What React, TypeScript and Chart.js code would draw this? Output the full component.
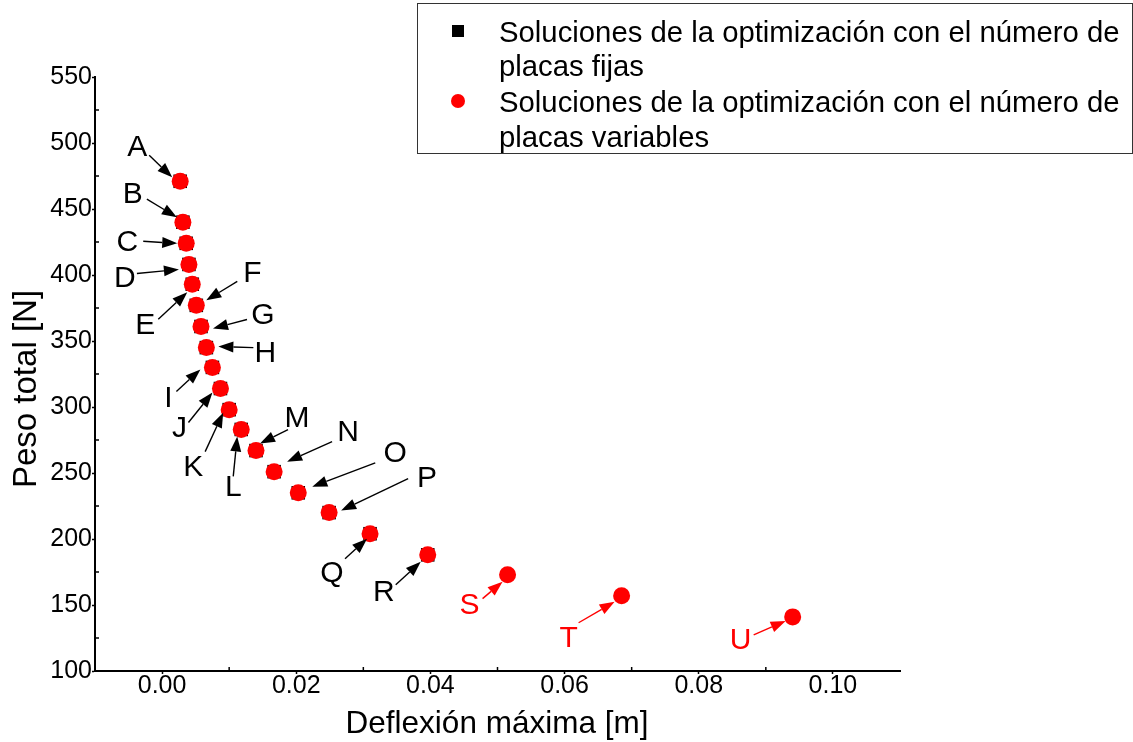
import React, { useEffect, useRef } from "react";
import { Chart, registerables } from "chart.js";

Chart.register(...registerables);

// ---- data ----
const pointLabels = ["A", "B", "C", "D", "E", "F", "G", "H", "I", "J", "K", "L", "M", "N", "O", "P", "Q", "R", "S", "T", "U"];
const deflexionVariables = [0.0027, 0.0031, 0.0036, 0.004, 0.0045, 0.0051, 0.0058, 0.0066, 0.0075, 0.0087, 0.01, 0.0118, 0.014, 0.0167, 0.0203, 0.0249, 0.031, 0.0396, 0.0515, 0.0685, 0.094];
const pesoVariables = [471, 440, 424, 408, 393, 377, 361, 345, 330, 314, 298, 283, 267, 251, 235, 220, 204, 188, 173, 157, 141];
const deflexionFijas = [0.0027, 0.0031, 0.0036, 0.004, 0.0045, 0.0051, 0.0058, 0.0066, 0.0075, 0.0087, 0.01, 0.0118, 0.014, 0.0167, 0.0203, 0.0249, 0.031, 0.0396];
const pesoFijas = [471, 440, 424, 408, 393, 377, 361, 345, 330, 314, 298, 283, 267, 251, 235, 220, 204, 188];
const xTicks = [0.0, 0.02, 0.04, 0.06, 0.08, 0.1];
const xMinorTicks = [0.01, 0.03, 0.05, 0.07, 0.09];
const yTicks = [100, 150, 200, 250, 300, 350, 400, 450, 500, 550];
const yMinorTicks = [125, 175, 225, 275, 325, 375, 425, 475, 525];
const legendFijas = ["Soluciones de la optimización con el número de", "placas fijas"];
const legendVariables = ["Soluciones de la optimización con el número de", "placas variables"];
const xTitle = "Deflexión máxima [m]";
const yTitle = "Peso total [N]";

// ---- annotation layout (pixel offsets from each point: text, arrow tail, arrow head) ----
const labelLayout: { t: number[]; a: number[]; h: number[] }[] = [
  { t: [-43, -35], a: [-31, -26], h: [-8, -4] },
  { t: [-50, -28], a: [-36, -23], h: [-6, -5] },
  { t: [-59, -2], a: [-43, -2], h: [-9, 0] },
  { t: [-64, 13], a: [-52, 9], h: [-10, 5] },
  { t: [-47, 40], a: [-34, 35], h: [-5, 8] },
  { t: [56, -33], a: [41, -24], h: [10, -5] },
  { t: [62, -12], a: [46, -7], h: [12, 2] },
  { t: [59, 5], a: [47, 0], h: [12, -1] },
  { t: [-44, 30], a: [-36, 24], h: [-12, 2] },
  { t: [-41, 39], a: [-32, 34], h: [-8, 4] },
  { t: [-36, 57], a: [-24, 42], h: [-6, 3] },
  { t: [-8, 57], a: [-8, 47], h: [-4, 7] },
  { t: [41, -33], a: [32, -21], h: [4, -7] },
  { t: [74, -40], a: [58, -30], h: [13, -10] },
  { t: [97, -40], a: [77, -30], h: [14, -6] },
  { t: [98, -35], a: [79, -34], h: [12, -2] },
  { t: [-38, 39], a: [-25, 25], h: [-3, 5] },
  { t: [-44, 37], a: [-32, 30], h: [-7, 7] },
  { t: [-38, 30], a: [-25, 24], h: [-5, 7] },
  { t: [-53, 42], a: [-43, 27], h: [-7, 6] },
  { t: [-52, 23], a: [-39, 18], h: [-7, 4] },
];

const FONT = "'Liberation Sans', Arial, sans-serif";
const RED = "#ff0000";

function drawArrow(ctx: CanvasRenderingContext2D, x1: number, y1: number, x2: number, y2: number, color: string) {
  const ang = Math.atan2(y2 - y1, x2 - x1);
  const len = 15;
  const hw = 5.5;
  const bx = x2 - len * Math.cos(ang);
  const by = y2 - len * Math.sin(ang);
  ctx.strokeStyle = color;
  ctx.fillStyle = color;
  ctx.lineWidth = 1.4;
  ctx.beginPath();
  ctx.moveTo(x1, y1);
  ctx.lineTo(bx, by);
  ctx.stroke();
  ctx.beginPath();
  ctx.moveTo(x2, y2);
  ctx.lineTo(bx - hw * Math.sin(ang), by + hw * Math.cos(ang));
  ctx.lineTo(bx + hw * Math.sin(ang), by - hw * Math.cos(ang));
  ctx.closePath();
  ctx.fill();
}

const annotationPlugin = {
  id: "annotations",
  afterDatasetsDraw(chart: any) {
    const ctx: CanvasRenderingContext2D = chart.ctx;
    const meta = chart.getDatasetMeta(0);
    ctx.save();
    meta.data.forEach((el: any, i: number) => {
      const lay = labelLayout[i];
      if (!lay) return;
      const color = i >= deflexionFijas.length ? RED : "#000";
      drawArrow(ctx, el.x + lay.a[0], el.y + lay.a[1], el.x + lay.h[0], el.y + lay.h[1], color);
      ctx.fillStyle = color;
      ctx.font = `30px ${FONT}`;
      ctx.textAlign = "center";
      ctx.textBaseline = "middle";
      ctx.fillText(pointLabels[i], el.x + lay.t[0], el.y + lay.t[1] + 1);
    });
    ctx.restore();
  },
  afterDraw(chart: any) {
    const ctx: CanvasRenderingContext2D = chart.ctx;
    const xs = chart.scales.x;
    const ys = chart.scales.y;
    const area = chart.chartArea;
    ctx.save();
    // minor ticks (inward)
    ctx.strokeStyle = "#000";
    ctx.lineWidth = 1.5;
    xMinorTicks.forEach((v) => {
      const px = xs.getPixelForValue(v);
      ctx.beginPath();
      ctx.moveTo(px, area.bottom);
      ctx.lineTo(px, area.bottom - 4);
      ctx.stroke();
    });
    yMinorTicks.forEach((v) => {
      const py = ys.getPixelForValue(v);
      ctx.beginPath();
      ctx.moveTo(area.left, py);
      ctx.lineTo(area.left + 4, py);
      ctx.stroke();
    });
    // axis titles
    ctx.fillStyle = "#000";
    ctx.font = `31.5px ${FONT}`;
    ctx.textAlign = "center";
    ctx.textBaseline = "alphabetic";
    ctx.fillText(xTitle, 497, 733);
    ctx.save();
    ctx.translate(36, 389);
    ctx.rotate(-Math.PI / 2);
    ctx.font = `33px ${FONT}`;
    ctx.fillText(yTitle, 0, 0);
    ctx.restore();
    // legend
    ctx.strokeStyle = "#333";
    ctx.lineWidth = 1;
    ctx.strokeRect(417.5, 3.5, 715, 150);
    ctx.fillStyle = "#000";
    ctx.fillRect(452, 25, 12, 12);
    ctx.fillStyle = RED;
    ctx.beginPath();
    ctx.arc(458, 101, 7, 0, Math.PI * 2);
    ctx.fill();
    ctx.fillStyle = "#000";
    ctx.font = `29.3px ${FONT}`;
    ctx.textAlign = "left";
    ctx.fillText(legendFijas[0], 499, 41.5);
    ctx.fillText(legendFijas[1], 499, 76);
    ctx.fillText(legendVariables[0], 499, 112);
    ctx.fillText(legendVariables[1], 499, 147);
    ctx.restore();
  },
};

export default function App() {
  const canvasRef = useRef<HTMLCanvasElement | null>(null);

  useEffect(() => {
    const canvas = canvasRef.current;
    if (!canvas) return;
    const chart = new Chart(canvas, {
      type: "scatter",
      data: {
        datasets: [
          {
            label: legendVariables.join(" "),
            data: deflexionVariables.map((x, i) => ({ x, y: pesoVariables[i] })),
            pointStyle: "circle",
            pointRadius: 8.5,
            pointHoverRadius: 8.5,
            backgroundColor: RED,
            borderColor: RED,
            borderWidth: 0,
            order: 0,
          },
          {
            label: legendFijas.join(" "),
            data: deflexionFijas.map((x, i) => ({ x, y: pesoFijas[i] })),
            pointStyle: "rect",
            pointRadius: 9.6,
            pointHoverRadius: 9.6,
            backgroundColor: "#000",
            borderColor: "#000",
            borderWidth: 0,
            order: 1,
          },
        ],
      },
      options: {
        responsive: false,
        animation: false,
        events: [],
        layout: { padding: { left: 0, top: 77, right: 233, bottom: 0 } },
        plugins: {
          legend: { display: false },
          tooltip: { enabled: false },
        },
        scales: {
          x: {
            type: "linear",
            min: -0.01,
            max: 0.11,
            afterFit: (s: any) => {
              s.height = 71;
            },
            afterBuildTicks: (s: any) => {
              s.ticks = xTicks.map((v) => ({ value: v }));
            },
            grid: { drawOnChartArea: false, drawTicks: true, tickLength: 3, tickColor: "#000", tickWidth: 1.5 },
            border: { display: true, color: "#000", width: 2 },
            ticks: {
              color: "#000",
              padding: -3,
              font: { family: FONT, size: 25 },
              callback: (v: any) => Number(v).toFixed(2),
            },
          },
          y: {
            type: "linear",
            min: 100,
            max: 550,
            afterFit: (s: any) => {
              s.width = 95;
            },
            afterBuildTicks: (s: any) => {
              s.ticks = yTicks.map((v) => ({ value: v }));
            },
            grid: { drawOnChartArea: false, drawTicks: true, tickLength: 3, tickColor: "#000", tickWidth: 1.5 },
            border: { display: true, color: "#000", width: 2 },
            ticks: {
              color: "#000",
              padding: 0,
              font: { family: FONT, size: 25 },
              callback: (v: any) => String(v),
            },
          },
        },
      },
      plugins: [annotationPlugin],
    });
    return () => chart.destroy();
  }, []);

  return (
    <div style={{ position: "absolute", left: 0, top: 0, width: 1133, height: 742, background: "#fff" }}>
      <canvas ref={canvasRef} width={1133} height={742} style={{ width: 1133, height: 742, display: "block" }} />
    </div>
  );
}
